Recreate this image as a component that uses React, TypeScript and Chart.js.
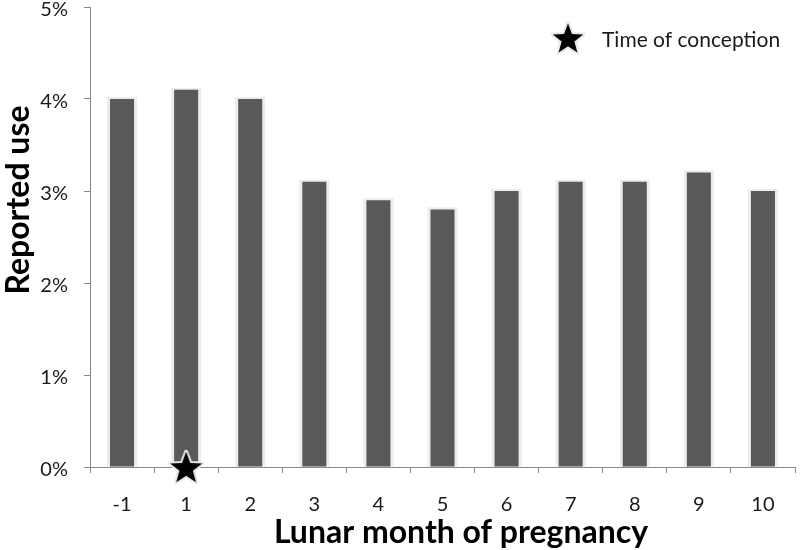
import React, { useEffect, useRef } from "react";
import { Chart, registerables } from "chart.js";

Chart.register(...registerables);

const months = ["-1", "1", "2", "3", "4", "5", "6", "7", "8", "9", "10"];
const reportedUse = [4.0, 4.1, 4.0, 3.1, 2.9, 2.8, 3.0, 3.1, 3.1, 3.2, 3.0];
const conceptionMonth = ["1"];
const conceptionValue = [0];
const yTicks = [0, 1, 2, 3, 4, 5];
const legendLabel = "Time of conception";
const xTitle = "Lunar month of pregnancy";
const yTitle = "Reported use";

const FONT = "Lato, 'Open Sans', sans-serif";

function makeStar(size: number): HTMLCanvasElement {
  const c = document.createElement("canvas");
  c.width = size;
  c.height = size;
  const ctx = c.getContext("2d")!;
  const cx = size / 2;
  const cy = size / 2 + size * 0.04;
  const outer = size * 0.42;
  const inner = outer * 0.42;
  ctx.beginPath();
  for (let i = 0; i < 10; i++) {
    const r = i % 2 === 0 ? outer : inner;
    const a = -Math.PI / 2 + (i * Math.PI) / 5;
    const x = cx + r * Math.cos(a);
    const y = cy + r * Math.sin(a);
    if (i === 0) ctx.moveTo(x, y);
    else ctx.lineTo(x, y);
  }
  ctx.closePath();
  ctx.lineJoin = "round";
  ctx.lineWidth = 4;
  ctx.strokeStyle = "#e8e8e8";
  ctx.stroke();
  ctx.fillStyle = "#000000";
  ctx.fill();
  return c;
}

export default function App() {
  const ref = useRef<HTMLCanvasElement | null>(null);

  useEffect(() => {
    if (!ref.current) return;
    const star = makeStar(40);
    const legendStar = makeStar(38);

    const barShadow = {
      id: "barShadow",
      beforeDatasetDraw(chart: any, args: any) {
        if (args.index !== 0) return;
        const ctx = chart.ctx;
        const meta = chart.getDatasetMeta(0);
        ctx.save();
        meta.data.forEach((bar: any) => {
          const { x, y, base, width } = bar.getProps(["x", "y", "base", "width"], true);
          ctx.fillStyle = "#ececec";
          ctx.fillRect(x - width / 2 - 3, y - 2, width + 6, base - y + 2);
        });
        ctx.restore();
      },
    };

    const textPlugin = {
      id: "customText",
      afterDraw(chart: any) {
        const ctx = chart.ctx;
        ctx.save();
        ctx.drawImage(legendStar, 568 - 19, 38 - 19);
        ctx.fillStyle = "#1a1a1a";
        ctx.font = `21px ${FONT}`;
        ctx.textBaseline = "middle";
        ctx.textAlign = "left";
        ctx.fillText(legendLabel, 602, 40);

        ctx.fillStyle = "#000";
        ctx.font = `bold 32px ${FONT}`;
        ctx.textAlign = "center";
        ctx.fillText(xTitle, 461, 533);

        ctx.translate(19, 200);
        ctx.rotate(-Math.PI / 2);
        ctx.fillText(yTitle, 0, 0);
        ctx.restore();
      },
    };

    const chart = new Chart(ref.current, {
      type: "bar",
      data: {
        labels: months,
        datasets: [
          {
            type: "bar",
            label: "Reported use",
            data: reportedUse,
            backgroundColor: "#595959",
            borderWidth: 0,
            barPercentage: 0.75,
            categoryPercentage: 0.5,
            order: 2,
          },
          {
            type: "scatter" as any,
            label: legendLabel,
            data: conceptionMonth.map((m, i) => ({ x: m, y: conceptionValue[i] })) as any,
            pointStyle: star as any,
            pointRadius: 20,
            clip: false as any,
            order: 1,
          },
        ],
      },
      options: {
        animation: false,
        responsive: false,
        layout: { autoPadding: false, padding: { left: 0, top: 7, right: 5, bottom: 0 } },
        plugins: {
          legend: { display: false },
          tooltip: { enabled: false },
        },
        scales: {
          x: {
            type: "category",
            offset: true,
            grid: {
              display: true,
              offset: true,
              drawOnChartArea: false,
              drawTicks: true,
              tickLength: 6,
              color: "#888888",
            },
            border: { display: true, color: "#888888", width: 1 },
            ticks: {
              color: "#1a1a1a",
              font: { family: FONT, size: 20 },
              padding: 20,
            },
            title: { display: false },
            afterFit(scale: any) {
              scale.height = 83;
              scale.paddingLeft = 0;
              scale.paddingRight = 0;
            },
          },
          y: {
            min: 0,
            max: 5,
            afterBuildTicks(scale: any) {
              scale.ticks = yTicks.map((v) => ({ value: v }));
            },
            grid: {
              display: true,
              drawOnChartArea: false,
              drawTicks: true,
              tickLength: 6,
              color: "#888888",
            },
            border: { display: true, color: "#888888", width: 1 },
            ticks: {
              color: "#1a1a1a",
              font: { family: FONT, size: 20 },
              padding: 16,
              labelOffset: 3,
              callback: (v: any) => `${v}%`,
            },
            title: { display: false },
            afterFit(scale: any) {
              scale.width = 90;
              scale.paddingTop = 0;
              scale.paddingBottom = 0;
            },
          },
        },
      },
      plugins: [barShadow, textPlugin],
    });
    return () => chart.destroy();
  }, []);

  return (
    <div style={{ position: "fixed", left: 0, top: 0, width: 800, height: 550, background: "#fff" }}>
      <canvas ref={ref} width={800} height={550} style={{ width: 800, height: 550 }} />
    </div>
  );
}
